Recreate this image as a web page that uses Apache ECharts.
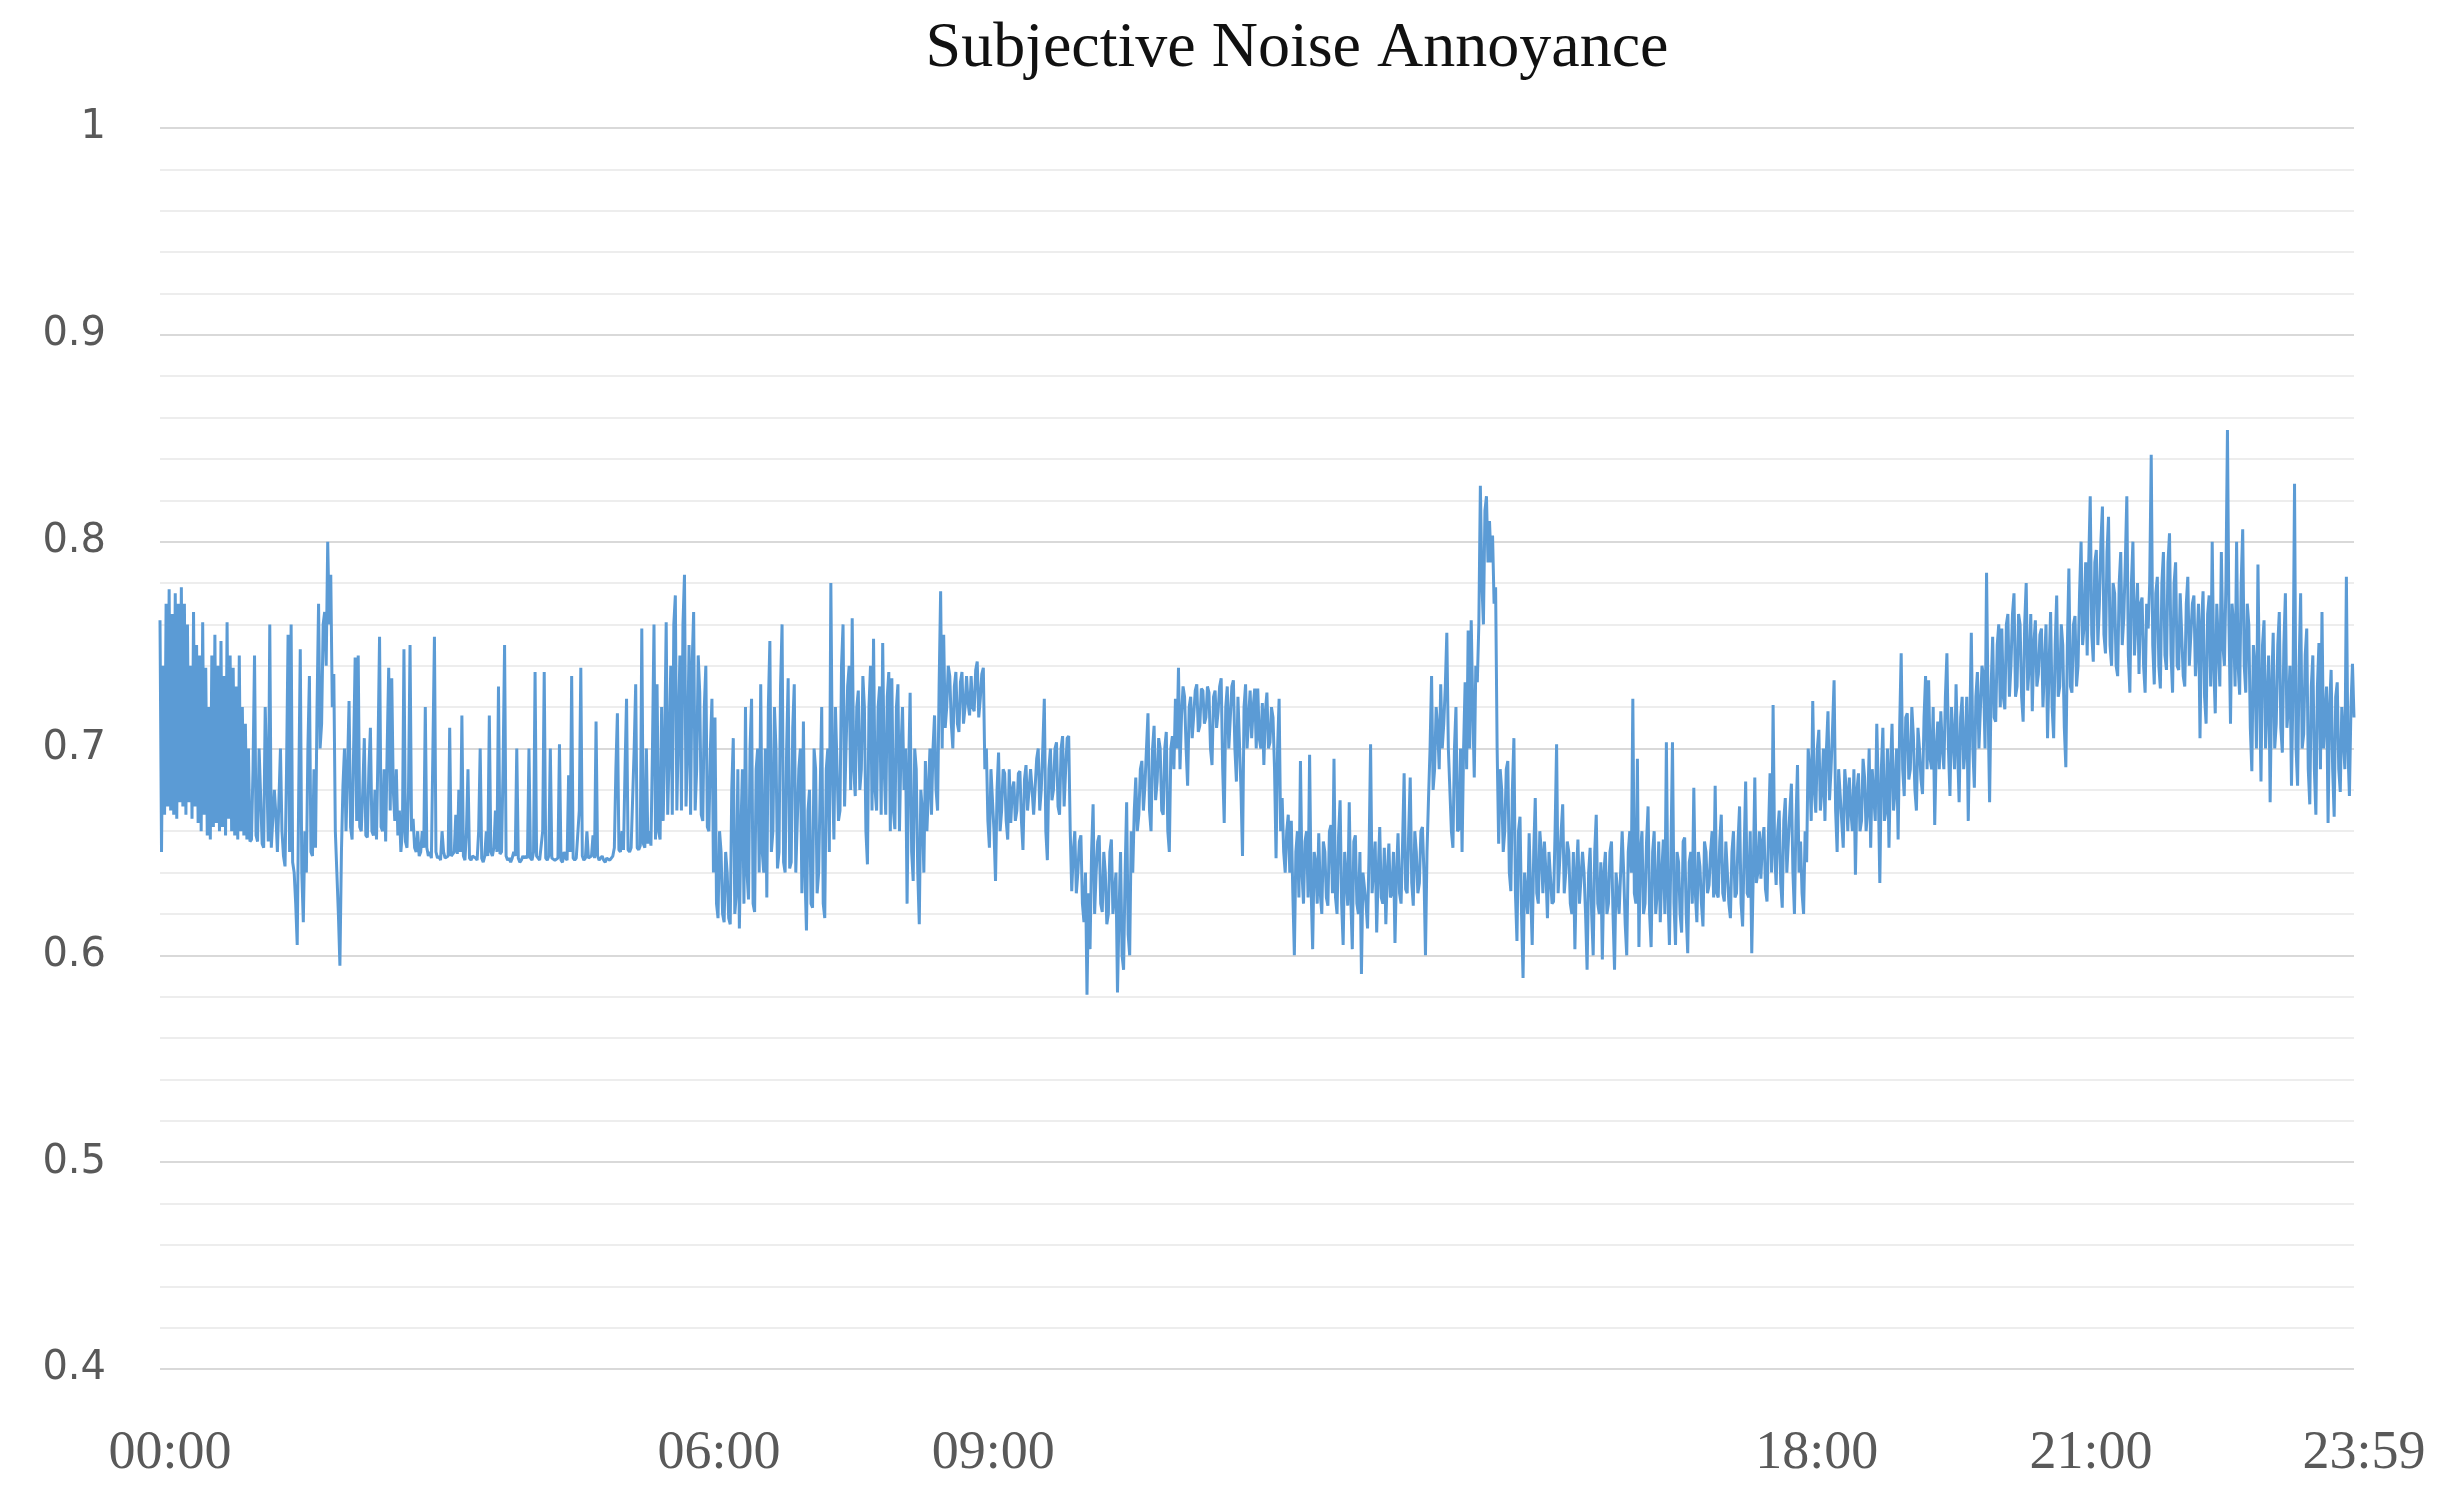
<!DOCTYPE html>
<html>
<head>
<meta charset="utf-8">
<script src="https://cdn.jsdelivr.net/npm/echarts@6/dist/echarts.min.js"></script>
<style>
  html, body { margin: 0; padding: 0; background: #ffffff; }
  #chart { width: 2444px; height: 1493px; }
</style>
</head>
<body>
<div id="chart"></div>
<script>
// Sampling step of the series, in minutes after 00:00
const STEP_MIN = 1;

// Subjective noise annoyance, one value per minute
const h00_04 = [
  0.762,0.650,0.740,0.668,0.770,0.672,0.777,0.670,0.765,0.668,
  0.775,0.666,0.770,0.674,0.778,0.672,0.770,0.668,0.760,0.674,
  0.740,0.666,0.766,0.672,0.750,0.664,0.745,0.660,0.761,0.668,
  0.739,0.658,0.720,0.656,0.745,0.662,0.755,0.664,0.740,0.660,
  0.752,0.662,0.735,0.658,0.761,0.666,0.745,0.660,0.739,0.658,
  0.730,0.656,0.745,0.660,0.720,0.658,0.712,0.656,0.700,0.655,
  0.656,0.690,0.745,0.658,0.655,0.700,0.700,0.654,0.652,0.720,
  0.690,0.655,0.760,0.652,0.652,0.680,0.668,0.650,0.650,0.700,
  0.660,0.648,0.643,0.690,0.755,0.650,0.760,0.645,0.640,0.625,
  0.605,0.680,0.748,0.640,0.616,0.660,0.640,0.700,0.735,0.650,
  0.648,0.690,0.652,0.720,0.770,0.700,0.712,0.760,0.766,0.740,
  0.800,0.760,0.784,0.720,0.736,0.660,0.640,0.620,0.595,0.650,
  0.682,0.700,0.660,0.690,0.723,0.662,0.656,0.700,0.744,0.665,
  0.745,0.662,0.660,0.680,0.705,0.658,0.657,0.690,0.710,0.660,
  0.658,0.680,0.656,0.700,0.754,0.662,0.660,0.690,0.655,0.700,
  0.739,0.670,0.734,0.680,0.665,0.690,0.658,0.670,0.650,0.660,
  0.748,0.655,0.652,0.680,0.750,0.660,0.666,0.652,0.650,0.660,
  0.648,0.650,0.660,0.652,0.720,0.652,0.648,0.650,0.647,0.700,
  0.754,0.650,0.647,0.648,0.646,0.660,0.650,0.647,0.647,0.648,
  0.710,0.648,0.648,0.650,0.668,0.649,0.680,0.650,0.716,0.648,
  0.646,0.660,0.690,0.647,0.646,0.648,0.648,0.647,0.646,0.660,
  0.700,0.647,0.645,0.648,0.660,0.648,0.716,0.650,0.648,0.652,
  0.670,0.650,0.730,0.649,0.650,0.690,0.750,0.648,0.646,0.647,
  0.645,0.647,0.650,0.648,0.700,0.647,0.645,0.646,0.648,0.647
];
const h04_08 = [
  0.648,0.647,0.700,0.647,0.646,0.650,0.737,0.648,0.647,0.646,
  0.646,0.660,0.737,0.647,0.646,0.648,0.700,0.647,0.647,0.646,
  0.646,0.647,0.702,0.646,0.645,0.650,0.647,0.646,0.687,0.650,
  0.735,0.647,0.646,0.647,0.647,0.670,0.739,0.648,0.646,0.647,
  0.660,0.647,0.647,0.648,0.658,0.647,0.713,0.648,0.646,0.647,
  0.648,0.646,0.645,0.647,0.647,0.646,0.646,0.648,0.652,0.690,
  0.717,0.651,0.650,0.660,0.651,0.690,0.724,0.651,0.650,0.652,
  0.652,0.700,0.731,0.652,0.651,0.653,0.758,0.654,0.652,0.700,
  0.654,0.660,0.653,0.700,0.760,0.656,0.731,0.660,0.656,0.720,
  0.665,0.700,0.761,0.668,0.700,0.740,0.668,0.760,0.774,0.670,
  0.710,0.745,0.670,0.760,0.784,0.672,0.700,0.750,0.668,0.740,
  0.766,0.670,0.690,0.745,0.727,0.668,0.665,0.720,0.740,0.662,
  0.660,0.700,0.724,0.640,0.715,0.625,0.618,0.660,0.650,0.620,
  0.616,0.650,0.640,0.618,0.615,0.680,0.705,0.620,0.630,0.690,
  0.613,0.660,0.690,0.625,0.720,0.640,0.627,0.700,0.724,0.625,
  0.621,0.690,0.700,0.640,0.731,0.650,0.640,0.700,0.628,0.720,
  0.752,0.650,0.660,0.720,0.700,0.642,0.650,0.730,0.760,0.645,
  0.640,0.700,0.734,0.642,0.645,0.710,0.731,0.640,0.640,0.690,
  0.700,0.630,0.713,0.640,0.612,0.670,0.680,0.625,0.623,0.700,
  0.690,0.630,0.640,0.680,0.720,0.625,0.618,0.690,0.700,0.650,
  0.780,0.690,0.656,0.720,0.720,0.665,0.670,0.740,0.760,0.672,
  0.672,0.730,0.740,0.680,0.763,0.690,0.677,0.720,0.728,0.680,
  0.690,0.735,0.720,0.660,0.644,0.720,0.740,0.670,0.753,0.680,
  0.670,0.720,0.730,0.668,0.751,0.690,0.668,0.725,0.737,0.660
];
const h08_12 = [
  0.734,0.670,0.661,0.720,0.731,0.660,0.700,0.720,0.680,0.700,
  0.625,0.690,0.727,0.650,0.636,0.700,0.690,0.640,0.615,0.680,
  0.670,0.640,0.694,0.660,0.680,0.700,0.668,0.700,0.716,0.680,
  0.670,0.730,0.776,0.700,0.755,0.710,0.720,0.740,0.735,0.712,
  0.700,0.730,0.737,0.712,0.708,0.732,0.737,0.712,0.720,0.735,
  0.722,0.716,0.735,0.720,0.718,0.738,0.742,0.715,0.724,0.736,
  0.739,0.690,0.700,0.665,0.652,0.690,0.690,0.660,0.636,0.680,
  0.698,0.660,0.670,0.690,0.688,0.665,0.656,0.690,0.664,0.680,
  0.684,0.665,0.670,0.688,0.689,0.665,0.651,0.685,0.692,0.670,
  0.670,0.690,0.680,0.668,0.668,0.695,0.700,0.670,0.680,0.700,
  0.724,0.660,0.646,0.690,0.700,0.675,0.680,0.700,0.703,0.672,
  0.668,0.700,0.706,0.672,0.690,0.705,0.706,0.660,0.631,0.650,
  0.660,0.630,0.640,0.655,0.658,0.625,0.616,0.640,0.581,0.630,
  0.603,0.650,0.673,0.620,0.640,0.655,0.658,0.625,0.621,0.650,
  0.640,0.615,0.620,0.650,0.656,0.620,0.630,0.640,0.582,0.620,
  0.650,0.600,0.593,0.640,0.674,0.610,0.600,0.660,0.640,0.670,
  0.686,0.660,0.668,0.690,0.694,0.670,0.682,0.700,0.717,0.670,
  0.660,0.700,0.711,0.675,0.684,0.705,0.700,0.670,0.668,0.700,
  0.708,0.660,0.650,0.700,0.706,0.690,0.724,0.700,0.739,0.690,
  0.716,0.730,0.725,0.700,0.682,0.720,0.725,0.705,0.716,0.728,
  0.731,0.708,0.711,0.729,0.728,0.712,0.715,0.730,0.727,0.700,
  0.692,0.725,0.728,0.710,0.718,0.730,0.734,0.690,0.664,0.720,
  0.730,0.700,0.715,0.730,0.733,0.700,0.684,0.725,0.725,0.680,
  0.648,0.720,0.731,0.700,0.715,0.728,0.705,0.720,0.729,0.700
];
const h12_16 = [
  0.729,0.705,0.700,0.722,0.692,0.718,0.727,0.700,0.703,0.720,
  0.715,0.690,0.647,0.700,0.724,0.660,0.676,0.650,0.640,0.660,
  0.668,0.640,0.665,0.630,0.600,0.650,0.660,0.628,0.694,0.640,
  0.625,0.655,0.660,0.628,0.697,0.632,0.603,0.650,0.645,0.625,
  0.659,0.630,0.620,0.655,0.650,0.628,0.624,0.660,0.663,0.630,
  0.695,0.628,0.620,0.658,0.675,0.625,0.605,0.650,0.650,0.624,
  0.674,0.628,0.603,0.655,0.658,0.625,0.620,0.650,0.591,0.640,
  0.640,0.625,0.613,0.650,0.702,0.630,0.630,0.655,0.611,0.640,
  0.662,0.628,0.625,0.652,0.615,0.640,0.654,0.628,0.630,0.650,
  0.606,0.640,0.659,0.630,0.625,0.655,0.688,0.632,0.630,0.660,
  0.686,0.635,0.624,0.660,0.650,0.630,0.635,0.660,0.662,0.640,
  0.600,0.650,0.676,0.700,0.735,0.680,0.690,0.720,0.710,0.690,
  0.731,0.700,0.712,0.730,0.756,0.700,0.700,0.660,0.652,0.700,
  0.720,0.660,0.661,0.700,0.650,0.700,0.732,0.690,0.757,0.700,
  0.762,0.720,0.686,0.740,0.732,0.760,0.827,0.780,0.760,0.815,
  0.822,0.790,0.810,0.790,0.803,0.770,0.778,0.700,0.654,0.690,
  0.680,0.650,0.660,0.690,0.694,0.640,0.631,0.680,0.705,0.630,
  0.607,0.660,0.667,0.620,0.589,0.640,0.640,0.620,0.659,0.630,
  0.605,0.650,0.676,0.630,0.625,0.660,0.650,0.630,0.655,0.640,
  0.618,0.650,0.650,0.625,0.626,0.660,0.702,0.630,0.630,0.660,
  0.673,0.630,0.640,0.655,0.650,0.625,0.620,0.650,0.603,0.640,
  0.656,0.625,0.625,0.650,0.640,0.620,0.593,0.640,0.652,0.620,
  0.600,0.650,0.668,0.625,0.620,0.645,0.598,0.640,0.650,0.620,
  0.625,0.650,0.655,0.620,0.593,0.640,0.640,0.620,0.620,0.660
];
const h16_20 = [
  0.640,0.615,0.600,0.650,0.660,0.640,0.724,0.630,0.625,0.695,
  0.604,0.650,0.660,0.620,0.625,0.655,0.672,0.620,0.604,0.650,
  0.660,0.620,0.630,0.655,0.616,0.640,0.656,0.620,0.703,0.630,
  0.605,0.650,0.703,0.625,0.605,0.650,0.645,0.620,0.611,0.655,
  0.657,0.620,0.601,0.645,0.650,0.625,0.681,0.630,0.616,0.650,
  0.643,0.625,0.614,0.655,0.650,0.630,0.634,0.650,0.660,0.628,
  0.682,0.630,0.628,0.655,0.668,0.630,0.626,0.655,0.655,0.625,
  0.618,0.650,0.660,0.628,0.630,0.655,0.672,0.625,0.614,0.650,
  0.684,0.630,0.628,0.660,0.601,0.640,0.686,0.635,0.640,0.660,
  0.637,0.655,0.662,0.632,0.626,0.660,0.688,0.640,0.721,0.650,
  0.634,0.660,0.670,0.635,0.623,0.665,0.676,0.640,0.640,0.670,
  0.683,0.640,0.620,0.665,0.692,0.640,0.655,0.630,0.620,0.660,
  0.645,0.700,0.690,0.665,0.723,0.680,0.669,0.700,0.709,0.670,
  0.680,0.700,0.665,0.700,0.718,0.675,0.690,0.710,0.733,0.670,
  0.650,0.690,0.690,0.665,0.652,0.690,0.680,0.660,0.686,0.670,
  0.660,0.690,0.639,0.680,0.688,0.660,0.665,0.695,0.686,0.660,
  0.670,0.700,0.652,0.690,0.690,0.665,0.712,0.680,0.635,0.690,
  0.710,0.665,0.670,0.700,0.652,0.690,0.712,0.670,0.680,0.700,
  0.656,0.710,0.746,0.690,0.677,0.715,0.717,0.685,0.690,0.720,
  0.706,0.680,0.670,0.710,0.700,0.685,0.678,0.715,0.735,0.690,
  0.733,0.695,0.690,0.720,0.663,0.700,0.713,0.690,0.718,0.700,
  0.690,0.725,0.746,0.700,0.677,0.720,0.720,0.690,0.731,0.700,
  0.674,0.715,0.725,0.690,0.700,0.725,0.665,0.710,0.756,0.700,
  0.681,0.725,0.737,0.700,0.700,0.740,0.735,0.700,0.785,0.720
];
const h20_24 = [
  0.674,0.730,0.754,0.715,0.713,0.750,0.760,0.720,0.758,0.725,
  0.719,0.760,0.765,0.725,0.740,0.765,0.775,0.725,0.730,0.765,
  0.760,0.725,0.713,0.760,0.780,0.728,0.740,0.765,0.718,0.750,
  0.762,0.730,0.736,0.755,0.758,0.720,0.740,0.760,0.705,0.740,
  0.766,0.720,0.705,0.750,0.774,0.725,0.730,0.760,0.750,0.710,
  0.691,0.750,0.787,0.730,0.727,0.760,0.764,0.730,0.740,0.775,
  0.800,0.750,0.760,0.790,0.745,0.790,0.822,0.755,0.742,0.790,
  0.796,0.750,0.770,0.800,0.817,0.755,0.746,0.795,0.812,0.750,
  0.740,0.780,0.775,0.740,0.735,0.780,0.795,0.750,0.763,0.790,
  0.822,0.745,0.727,0.780,0.800,0.745,0.745,0.780,0.736,0.770,
  0.773,0.740,0.727,0.770,0.758,0.780,0.842,0.750,0.731,0.775,
  0.783,0.740,0.729,0.780,0.795,0.745,0.738,0.790,0.804,0.745,
  0.727,0.780,0.790,0.740,0.738,0.775,0.775,0.735,0.730,0.770,
  0.783,0.740,0.740,0.770,0.774,0.735,0.750,0.770,0.705,0.760,
  0.776,0.725,0.712,0.765,0.774,0.730,0.800,0.740,0.717,0.770,
  0.770,0.730,0.795,0.750,0.740,0.780,0.854,0.760,0.712,0.770,
  0.760,0.730,0.800,0.740,0.726,0.780,0.806,0.740,0.727,0.770,
  0.760,0.710,0.689,0.750,0.740,0.700,0.789,0.730,0.684,0.750,
  0.762,0.700,0.700,0.745,0.674,0.730,0.756,0.700,0.712,0.750,
  0.766,0.710,0.698,0.750,0.775,0.710,0.720,0.740,0.682,0.730,
  0.828,0.700,0.682,0.740,0.775,0.700,0.707,0.745,0.758,0.690,
  0.673,0.730,0.745,0.690,0.668,0.730,0.751,0.690,0.766,0.700,
  0.700,0.730,0.664,0.720,0.738,0.690,0.667,0.725,0.732,0.690,
  0.679,0.720,0.720,0.690,0.783,0.700,0.677,0.720,0.741,0.715
];

// x-axis tick positions (minutes after midnight) and their labels
const xTickMinutes = [0, 360, 540, 1080, 1260, 1439];
const xTickLabels = ['00:00', '06:00', '09:00', '18:00', '21:00', '23:59'];

// y-axis range and ticks
const yMin = 0.4, yMax = 1, yStep = 0.1;

const values = [].concat(h00_04, h04_08, h08_12, h12_16, h16_20, h20_24);
const seriesData = values.map((v, i) => [i * STEP_MIN, v]);

const chart = echarts.init(document.getElementById('chart'), null, { renderer: 'canvas' });
chart.setOption({
  animation: false,
  backgroundColor: '#ffffff',
  title: {
    text: 'Subjective Noise Annoyance',
    left: 1292,
    top: 12,
    textAlign: 'center',
    textStyle: {
      fontFamily: 'Liberation Serif',
      fontSize: 64,
      fontWeight: 'normal',
      color: '#111111'
    }
  },
  grid: {
    left: 160,
    right: 90,
    top: 128,
    bottom: 124,
    containLabel: false,
    outerBoundsMode: 'none'
  },
  xAxis: {
    type: 'value',
    min: 0,
    max: 1439,
    axisLine: { show: false },
    axisTick: { show: false },
    splitLine: { show: false },
    axisLabel: {
      customValues: xTickMinutes,
      formatter: function (val) {
        const k = xTickMinutes.indexOf(Math.round(val));
        return k >= 0 ? xTickLabels[k] : '';
      },
      margin: 58,
      padding: [0, 0, 0, 20],
      fontFamily: 'Liberation Serif',
      fontSize: 54,
      color: '#595959',
      showMinLabel: true,
      showMaxLabel: true,
      hideOverlap: false
    }
  },
  yAxis: {
    type: 'value',
    min: yMin,
    max: yMax,
    interval: yStep,
    axisLine: { show: false },
    axisTick: { show: false },
    axisLabel: {
      margin: 54,
      fontFamily: 'DejaVu Sans',
      fontSize: 40,
      color: '#595959',
      formatter: function (v) { return String(Math.round(v * 10) / 10); }
    },
    splitLine: { show: true, lineStyle: { color: '#d9d9d9', width: 2 } },
    minorTick: { show: false, splitNumber: 5 },
    minorSplitLine: { show: true, lineStyle: { color: '#ededed', width: 2 } }
  },
  series: [{
    type: 'line',
    data: seriesData,
    showSymbol: false,
    symbol: 'none',
    sampling: null,
    lineStyle: { color: '#5b9bd5', width: 3, join: 'bevel' },
    itemStyle: { color: '#5b9bd5' }
  }]
});
</script>
</body>
</html>
